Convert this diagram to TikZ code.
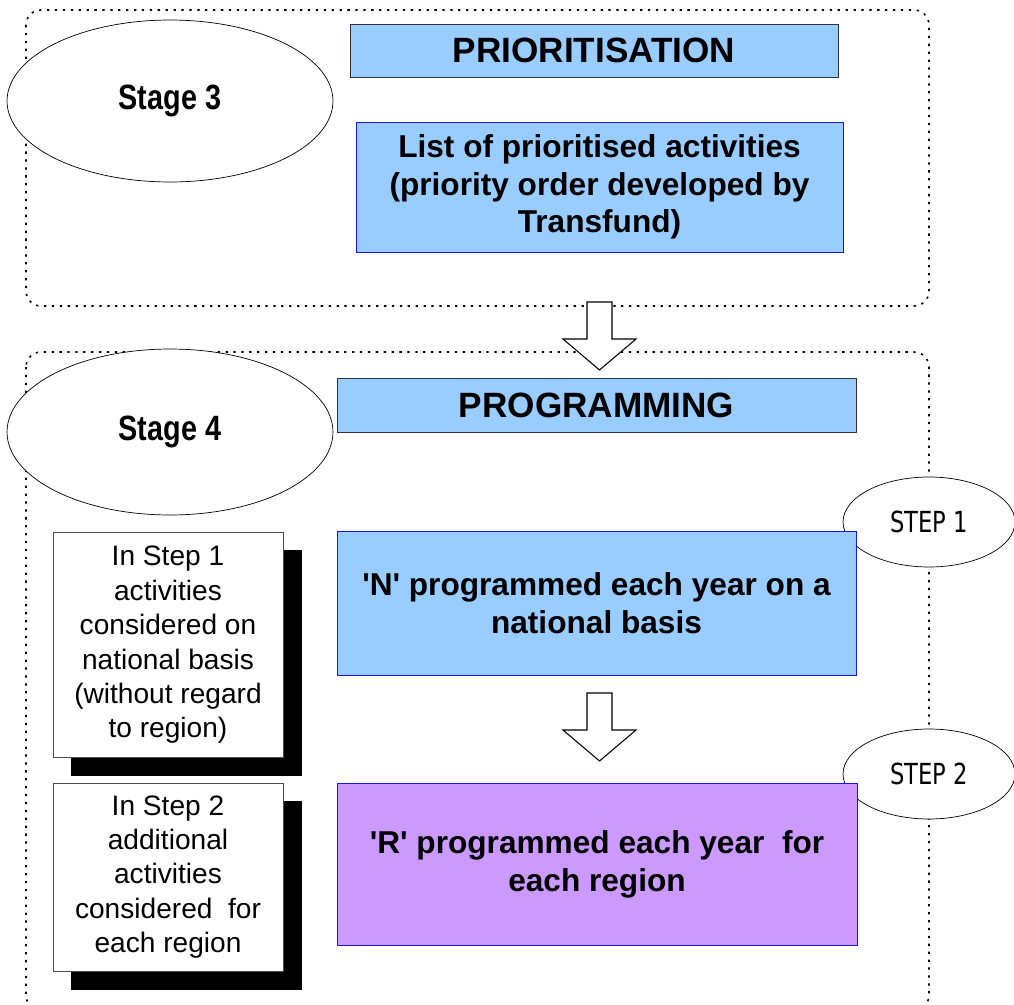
\documentclass[tikz,border=0pt]{standalone}
\usepackage{fontspec}
\setmainfont{Liberation Sans}
\newfontfamily\narrowfont[FakeStretch=0.82]{Liberation Sans}
\newfontfamily\stepfont[FakeStretch=0.78]{DejaVu Sans}
\usetikzlibrary{shapes.geometric,shadows}

\definecolor{boxblue}{RGB}{153,204,255}
\definecolor{boxpurple}{RGB}{204,153,255}
\definecolor{edgeblue}{RGB}{20,20,255}
\definecolor{edgegrey}{RGB}{50,50,60}

\tikzset{
  stagebox/.style={draw, dash pattern=on 1.3pt off 3.2pt, line width=0.9pt, rounded corners=0.3cm},
  stageoval/.style={ellipse, draw, fill=white, inner sep=0pt, font=\narrowfont\bfseries\fontsize{20}{24}\selectfont},
  stepoval/.style={ellipse, draw, fill=white, inner sep=0pt, minimum width=3.44cm, minimum height=1.8cm, font=\stepfont\fontsize{16.5}{19}\selectfont},
  headbox/.style={draw=edgegrey, fill=boxblue, inner sep=0pt, font=\bfseries\fontsize{20}{24}\selectfont},
  mainbox/.style={draw=edgeblue, inner sep=0pt, align=center, font=\bfseries\fontsize{18}{21.5}\selectfont},
  notebox/.style={draw=black!70, fill=white, inner sep=0pt, align=center, minimum width=4.6cm, font=\fontsize{16}{19.6}\selectfont,
    copy shadow={shadow xshift=0.36cm, shadow yshift=-0.36cm, fill=black, draw=black}},
  blockarrow/.style={draw, fill=white, line width=0.6pt, line join=miter}
}
\newcommand{\sq}{\textquotesingle}

\begin{document}
\begin{tikzpicture}[x=0.02cm, y=-0.02cm]
  \useasboundingbox (0,0) rectangle (1014,1004);

  % Stage 3
  \draw[stagebox] (26,10) rectangle (929,306);
  \node[stageoval, minimum width=6.52cm, minimum height=3.24cm] (stage3) at (170,101) {Stage 3};
  \node[headbox, minimum width=9.76cm, minimum height=1.06cm] (prio) at (594,50.5) {PRIORITISATION};
  \node[mainbox, fill=boxblue, minimum width=9.74cm, minimum height=2.6cm] (list) at (599.5,187)
    {List of prioritised activities\\(priority order developed by\\Transfund)};

  % Stage 4
  \draw[stagebox] (26,352) rectangle (929,1010);
  \node[stageoval, minimum width=6.52cm, minimum height=3.32cm] (stage4) at (170,432) {Stage 4};
  \node[headbox, minimum width=10.38cm, minimum height=1.08cm] (prog) at (596.5,405) {PROGRAMMING};

  % Steps
  \node[stepoval] (step1) at (929,522) {STEP 1};
  \node[stepoval] (step2) at (929,774) {STEP 2};
  \node[mainbox, fill=boxblue, minimum width=10.38cm, minimum height=2.88cm] (nbox) at (596.5,603)
    {\sq N\sq{} programmed each year on a\\national basis};
  \node[mainbox, fill=boxpurple, minimum width=10.4cm, minimum height=3.24cm] (rbox) at (597,864)
    {\sq R\sq{} programmed each year\ \ for\\each region};

  % Notes on the left
  \node[notebox, minimum height=4.5cm] (note1) at (168,645)
    {In Step 1\\activities\\considered on\\national basis\\(without regard\\to region)};
  \node[notebox, minimum height=3.76cm] (note2) at (168,877)
    {In Step 2\\additional\\activities\\considered\ \ for\\each region};

  % Block arrows
  \coordinate (arr1) at (599.5,302);
  \coordinate (arr2) at (599.5,693);
  \foreach \a in {arr1,arr2}
    \draw[blockarrow] (\a) ++(-12.5,0) -- ++(25,0) -- ++(0,37) -- ++(24,0)
      -- ++(-36.5,31) -- ++(-36.5,-31) -- ++(24,0) -- cycle;
\end{tikzpicture}
\end{document}
